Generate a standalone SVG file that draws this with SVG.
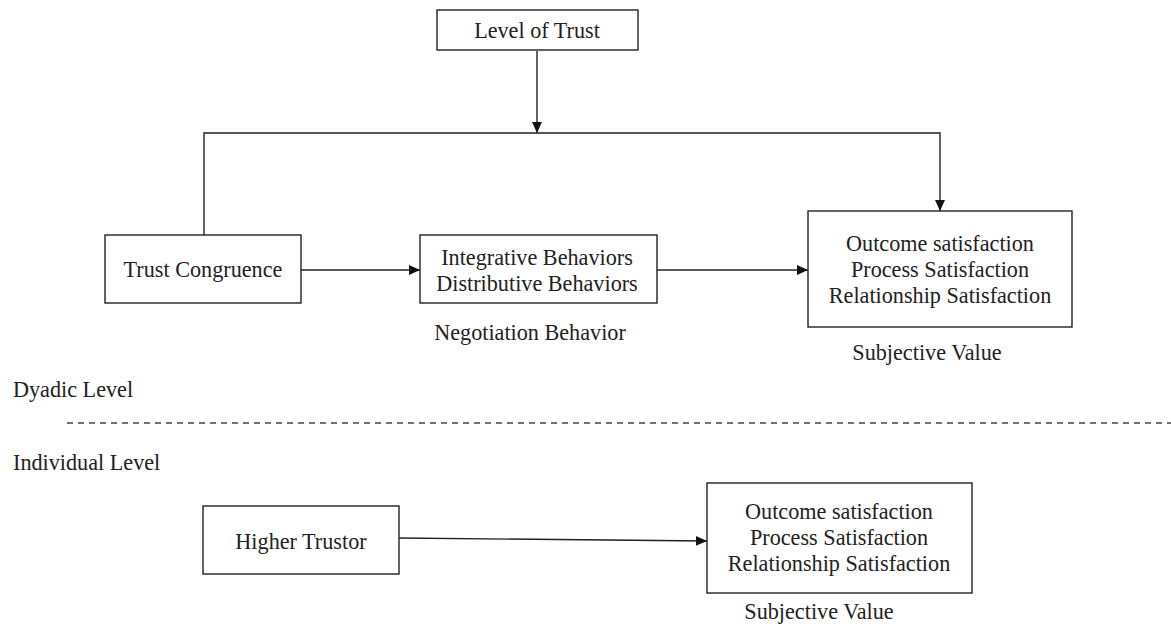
<svg xmlns="http://www.w3.org/2000/svg" width="1171" height="628" viewBox="0 0 1171 628">
  <style>
    .box { fill: #ffffff; stroke: #222222; stroke-width: 1.4; }
    .t { font-family: "Liberation Serif", "Times New Roman", serif; font-size: 22.2px; fill: #222222; }
    .c { text-anchor: middle; }
    .ln { fill: none; stroke: #222222; stroke-width: 1.4; }
    .dash { fill: none; stroke: #444444; stroke-width: 1.3; stroke-dasharray: 6 5; }
  </style>
  <defs>
    <marker id="arr" viewBox="0 0 10 10" refX="10" refY="5" markerWidth="11" markerHeight="11" markerUnits="userSpaceOnUse" orient="auto">
      <path d="M0,0.5 L10,5 L0,9.5 Z" fill="#111111"/>
    </marker>
  </defs>
  <rect width="1171" height="628" fill="#ffffff"/>

  <g id="connectors">
    <line class="ln" x1="537" y1="51" x2="537" y2="133" marker-end="url(#arr)"/>
    <polyline class="ln" points="204,235 204,133 940,133 940,211" marker-end="url(#arr)"/>
    <line class="ln" x1="301" y1="270" x2="420" y2="270" marker-end="url(#arr)"/>
    <line class="ln" x1="657" y1="270" x2="808" y2="270" marker-end="url(#arr)"/>
    <line class="ln" x1="399" y1="538" x2="707" y2="541" marker-end="url(#arr)"/>
  </g>

  <g id="level-of-trust">
    <rect class="box" x="437" y="10" width="201" height="40"/>
    <text class="t c" x="537" y="38">Level of Trust</text>
  </g>

  <g id="trust-congruence">
    <rect class="box" x="105" y="235" width="196" height="68"/>
    <text class="t c" x="203" y="277">Trust Congruence</text>
  </g>

  <g id="negotiation-behavior">
    <rect class="box" x="420" y="235" width="237" height="68"/>
    <text class="t c" x="537" y="265">Integrative Behaviors</text>
    <text class="t c" x="537" y="291">Distributive Behaviors</text>
    <text class="t c" x="530" y="340">Negotiation Behavior</text>
  </g>

  <g id="subjective-value-dyadic">
    <rect class="box" x="808" y="211" width="264" height="116"/>
    <text class="t c" x="940" y="251">Outcome satisfaction</text>
    <text class="t c" x="940" y="277">Process Satisfaction</text>
    <text class="t c" x="940" y="303">Relationship Satisfaction</text>
    <text class="t c" x="927" y="360">Subjective Value</text>
  </g>

  <g id="levels">
    <text class="t" x="13" y="397">Dyadic Level</text>
    <line class="dash" x1="67" y1="423" x2="1171" y2="423"/>
    <text class="t" x="13" y="470">Individual Level</text>
  </g>

  <g id="higher-trustor">
    <rect class="box" x="203" y="506" width="196" height="68"/>
    <text class="t c" x="301" y="549">Higher Trustor</text>
  </g>

  <g id="subjective-value-individual">
    <rect class="box" x="707" y="483" width="265" height="110"/>
    <text class="t c" x="839" y="519">Outcome satisfaction</text>
    <text class="t c" x="839" y="545">Process Satisfaction</text>
    <text class="t c" x="839" y="571">Relationship Satisfaction</text>
    <text class="t c" x="819" y="619">Subjective Value</text>
  </g>
</svg>
